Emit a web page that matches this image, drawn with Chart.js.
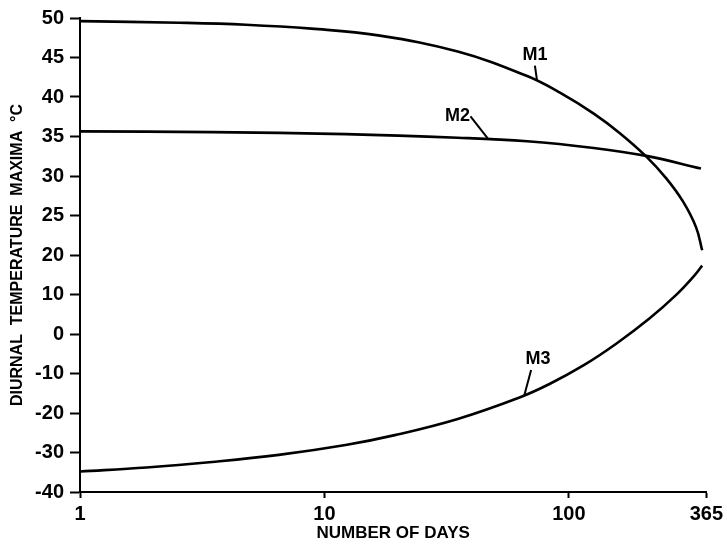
<!DOCTYPE html>
<html>
<head>
<meta charset="utf-8">
<script src="https://cdn.jsdelivr.net/npm/chart.js@4.4.1/dist/chart.umd.min.js"></script>
<style>
  html, body { margin: 0; padding: 0; background: #fff; }
  canvas { display: block; }
</style>
</head>
<body>
<canvas id="tempChart" width="727" height="550"></canvas>
<script>
// Values (x = number of days, y = degrees C)
const m1Days  = [1, 2.55, 4.77, 8.85, 16.6, 35.1, 67.5, 91.9, 126.4, 161.2, 207.5, 250.3, 293.3, 331.5, 351];
const m1Temps = [49.6, 49.4, 49.15, 48.65, 47.8, 45.75, 42.65, 40.55, 37.9, 35.45, 32.45, 29.7, 26.75, 23.5, 20.6];

const m2Days  = [1, 3.47, 12.2, 35.1, 67.5, 126.4, 207.5, 347];
const m2Temps = [35.65, 35.55, 35.3, 34.85, 34.4, 33.55, 32.55, 30.95];

const m3Days  = [1, 1.87, 3.47, 6.5, 12.2, 19.4, 35.1, 63.2, 83.7, 115.1, 156.7, 213.5, 274.8, 322, 351];
const m3Temps = [-34.8, -33.8, -32.4, -30.6, -28.1, -25.6, -21.5, -16.0, -12.6, -7.9, -2.4, 3.9, 9.9, 14.4, 17.3];

// axis tick labels
const xTicks = [1, 10, 100, 365];
const yTicks = [50, 45, 40, 35, 30, 25, 20, 10, 0, -10, -20, -30, -40];

// curve labels: anchor on the curve (data units)
const curveLabels = [
    { text: 'M1', day: 74, temp: 42.2 },
    { text: 'M2', day: 46.9, temp: 34.65 },
    { text: 'M3', day: 65.6, temp: -15.7 }
];
// leader line end / text centre offsets in pixels
const labelOffsets = {
    M1: { lx: -2, ly: -14, tx: -2, ty: -25 },
    M2: { lx: -18, ly: -23, tx: -31, ty: -23 },
    M3: { lx: 7, ly: -26, tx: 14, ty: -37 }
};

const FONT = 'Liberation Sans, Arial, sans-serif';

// the figure's y axis is in steps of 5 above 20 and steps of 10 below it
function toStep(v) {
    return v >= 20 ? 6 + (v - 20) / 5 : 6 - (20 - v) / 10;
}
function fromStep(s) {
    return s >= 6 ? 20 + (s - 6) * 5 : 20 - (6 - s) * 10;
}

class BrokenLinearScale extends Chart.LinearScale {
    getPixelForValue(value) {
        return this.getPixelForDecimal(toStep(value) / 12);
    }
    getValueForPixel(pixel) {
        return fromStep(this.getDecimalForPixel(pixel) * 12);
    }
}
BrokenLinearScale.id = 'brokenLinear';
BrokenLinearScale.defaults = Chart.LinearScale.defaults;
Chart.register(BrokenLinearScale);

function toPoints(days, temps) {
    return days.map((d, i) => ({ x: d, y: temps[i] }));
}

const lineStyle = {
    borderColor: '#000',
    borderWidth: 2.6,
    pointRadius: 0,
    fill: false,
    tension: 0.4
};

const curveLabelPlugin = {
    id: 'curveLabels',
    afterDatasetsDraw(chart) {
        const ctx = chart.ctx;
        const xs = chart.scales.x;
        const ys = chart.scales.y;
        ctx.save();
        ctx.strokeStyle = '#000';
        ctx.lineWidth = 2;
        ctx.fillStyle = '#000';
        ctx.font = 'bold 18px ' + FONT;
        ctx.textAlign = 'center';
        ctx.textBaseline = 'middle';
        curveLabels.forEach(lbl => {
            const off = labelOffsets[lbl.text];
            const px = xs.getPixelForValue(lbl.day);
            const py = ys.getPixelForValue(lbl.temp);
            ctx.beginPath();
            ctx.moveTo(px, py);
            ctx.lineTo(px + off.lx, py + off.ly);
            ctx.stroke();
            ctx.fillText(lbl.text, px + off.tx, py + off.ty);
        });
        ctx.restore();
    }
};

const ctx = document.getElementById('tempChart').getContext('2d');
const tempChart = new Chart(ctx, {
    type: 'line',
    data: {
        datasets: [
            Object.assign({ label: 'M1', data: toPoints(m1Days, m1Temps) }, lineStyle),
            Object.assign({ label: 'M2', data: toPoints(m2Days, m2Temps) }, lineStyle),
            Object.assign({ label: 'M3', data: toPoints(m3Days, m3Temps) }, lineStyle)
        ]
    },
    options: {
        responsive: false,
        animation: false,
        layout: {
            padding: { top: 14, right: 19, left: 0, bottom: 0 }
        },
        plugins: {
            legend: { display: false },
            tooltip: { enabled: false }
        },
        scales: {
            x: {
                type: 'logarithmic',
                min: 1,
                max: 365,
                afterBuildTicks: scale => {
                    scale.ticks = xTicks.map(v => ({ value: v }));
                },
                afterFit: scale => { scale.height = 58; },
                border: { display: true, color: '#000', width: 2 },
                grid: {
                    drawOnChartArea: false,
                    drawTicks: true,
                    tickLength: 6,
                    tickWidth: 2,
                    color: '#000'
                },
                ticks: {
                    autoSkip: false,
                    maxRotation: 0,
                    padding: 4,
                    color: '#000',
                    font: { family: FONT, size: 20, weight: 'bold' },
                    callback: value => String(value)
                },
                title: {
                    display: true,
                    text: 'NUMBER OF DAYS',
                    color: '#000',
                    font: { family: FONT, size: 17, weight: 'bold' },
                    padding: { top: 0, bottom: 6 }
                }
            },
            y: {
                type: 'brokenLinear',
                min: -40,
                max: 50,
                afterBuildTicks: scale => {
                    scale.ticks = yTicks.map(v => ({ value: v }));
                },
                afterFit: scale => { scale.width = 80; },
                border: { display: true, color: '#000', width: 2 },
                grid: {
                    drawOnChartArea: false,
                    drawTicks: true,
                    tickLength: 10,
                    tickWidth: 2,
                    color: '#000'
                },
                ticks: {
                    autoSkip: false,
                    padding: 6,
                    color: '#000',
                    font: { family: FONT, size: 20, weight: 'bold' },
                    callback: value => String(value)
                },
                title: {
                    display: true,
                    text: 'DIURNAL  TEMPERATURE  MAXIMA  \u00B0C',
                    color: '#000',
                    font: { family: FONT, size: 16, weight: 'bold' },
                    padding: { top: 8, bottom: 0 }
                }
            }
        }
    },
    plugins: [curveLabelPlugin]
});
</script>
</body>
</html>
